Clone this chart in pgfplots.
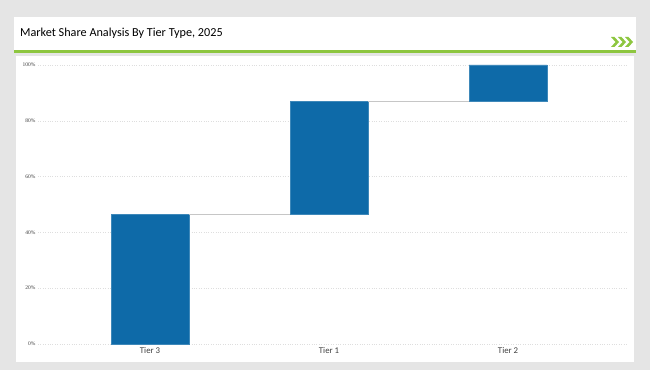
\documentclass[border=0pt]{standalone}
\usepackage{pgfplots}
\pgfplotsset{compat=1.18}
\usepackage{fontspec}
\setmainfont{Carlito}
\newfontfamily\tickfont{Liberation Serif}
\definecolor{bggray}{RGB}{229,229,229}
\definecolor{hdrgreen}{RGB}{141,198,63}
\definecolor{barblue}{RGB}{14,106,168}
\definecolor{gridgray}{RGB}{222,222,222}
\definecolor{labgray}{RGB}{64,64,64}
\begin{document}
\begin{tikzpicture}[x=1pt,y=1pt]
\fill[bggray] (0,0) rectangle (650,370);
\fill[white] (14,353) rectangle (636,319);
\fill[hdrgreen] (14,319.5) rectangle (636,316.5);
\fill[white] (16,314) rectangle (634,8);
\node[anchor=west, inner sep=0pt, font=\fontsize{12.2}{14}\selectfont, text=black] at (20,337) {Market Share Analysis By Tier Type, 2025};
\foreach \xx in {611,618,625}{
  \fill[hdrgreen] (\xx,333) -- (\xx+3.5,333) -- (\xx+8,328) -- (\xx+3.5,323) -- (\xx,323) -- (\xx+4.5,328) -- cycle;
}
\begin{axis}[
  at={(38pt,26pt)}, anchor=south west,
  scale only axis, width=590pt, height=279pt,
  xmin=-0.626, xmax=2.67, ymin=0, ymax=100,
  axis line style={draw=none},
  major tick length=0,
  ytick={0,20,40,60,80,100},
  yticklabel={\pgfmathprintnumber{\tick}\%},
  yticklabel style={font=\tickfont\fontsize{5.5}{6}\selectfont, text=labgray, xshift=1pt},
  /pgf/number format/assume math mode=true,
  xtick={0,1,2},
  xticklabels={Tier 3,Tier 1,Tier 2},
  xticklabel style={font=\fontsize{8.8}{10}\selectfont, text=labgray, yshift=0pt},
  ymajorgrids,
  grid style={gridgray, dotted, line width=0.6pt},
  ybar stacked, bar width=0.436,
]
\addplot[draw=none, fill=none] coordinates {(0,0) (1,46.4) (2,86.9)};
\addplot[fill=barblue, draw=barblue!80!white, line width=0.4pt] coordinates {(0,46.4) (1,40.5) (2,13.1)};
\end{axis}
\begin{axis}[
  at={(38pt,26pt)}, anchor=south west,
  scale only axis, width=590pt, height=279pt,
  xmin=-0.626, xmax=2.67, ymin=0, ymax=100,
  hide axis,
]
\addplot[gray!45, line width=0.8pt] coordinates {(0.218,46.4) (0.782,46.4)};
\addplot[gray!45, line width=0.8pt] coordinates {(1.218,86.9) (1.782,86.9)};
\end{axis}
\end{tikzpicture}
\end{document}
